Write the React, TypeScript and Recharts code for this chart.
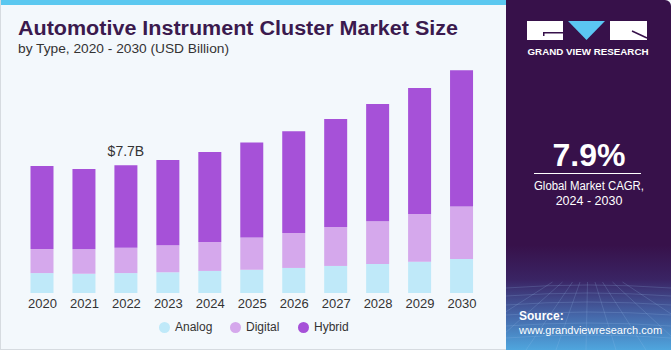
import { BarChart, Bar, XAxis, YAxis, LabelList } from 'recharts';

const years = ['2020', '2021', '2022', '2023', '2024', '2025', '2026', '2027', '2028', '2029', '2030'];
const analog = [1.2, 1.16, 1.2, 1.25, 1.33, 1.4, 1.51, 1.63, 1.75, 1.89, 2.05];
const digital = [1.45, 1.47, 1.52, 1.63, 1.75, 1.95, 2.11, 2.35, 2.57, 2.87, 3.17];
const hybrid = [5.0, 4.84, 4.98, 5.14, 5.42, 5.72, 6.13, 6.51, 7.07, 7.59, 8.21];
const labelledYear = '2022';

const series = [
  { key: 'analog', name: 'Analog', color: '#bfe9f9' },
  { key: 'digital', name: 'Digital', color: '#d5a8ec' },
  { key: 'hybrid', name: 'Hybrid', color: '#a651d8' }
];

const data = years.map((year, i) => ({
  year,
  analog: analog[i],
  digital: digital[i],
  hybrid: hybrid[i],
  total: analog[i] + digital[i] + hybrid[i]
}));

const FONT = '"Liberation Sans", Arial, sans-serif';

const TotalLabel = (props: any) => {
  const { x, y, width, index } = props;
  const row = data[index];
  if (!row || row.year !== labelledYear) return null;
  return (
    <text x={x + width / 2} y={y - 9} textAnchor="middle" fontSize={14} fill="#333" fontFamily={FONT}>
      {`$${row.total.toFixed(1)}B`}
    </text>
  );
};

function SidePanel() {
  return (
    <div
      style={{
        position: 'absolute',
        left: 506,
        top: 0,
        width: 165,
        height: 350,
        borderTopRightRadius: 6,
        overflow: 'hidden',
        background:
          'linear-gradient(to bottom, #37114a 0%, #37114a 70%, #3a2464 80%, #4566a8 90%, #4fa6de 100%)'
      }}
    >
      <svg width={165} height={350} style={{ position: 'absolute', left: 0, top: 0 }}>
        {/* logo */}
        <rect x={21} y={21} width={36} height={19} fill="#fff" />
        <rect x={37} y={32} width={20} height={1.5} fill="#37114a" />
        <rect x={37} y={32} width={1.5} height={4} fill="#37114a" />
        <polygon points="62,21 99,21 80.5,40" fill="#5bc6f2" />
        <rect x={104} y={21} width={37} height={19} fill="#fff" />
        <line x1={126} y1={31} x2={141} y2={38} stroke="#37114a" strokeWidth={1.5} />
        <text x={82} y={55} textAnchor="middle" fontSize={9.5} fontWeight="bold" fill="#fff" fontFamily={FONT} textLength={121} lengthAdjust="spacingAndGlyphs">
          GRAND VIEW RESEARCH
        </text>
        {/* faint grid floor */}
        <g stroke="#9fc6ee" strokeOpacity={0.28} strokeWidth={0.7} fill="none">
          {[288, 296, 305, 315, 326, 338].map((yy) => (
            <path key={yy} d={`M0 ${yy} Q82 ${yy - 6} 165 ${yy}`} />
          ))}
          {[-60, -20, 20, 50, 80, 110, 140, 180, 220].map((xx) => (
            <line key={xx} x1={82 + (xx - 82) * 0.25} y1={282} x2={xx} y2={350} />
          ))}
        </g>
        {/* CAGR */}
        <text x={83} y={166} textAnchor="middle" fontSize={32} fontWeight="bold" fill="#fff" fontFamily={FONT}>
          7.9%
        </text>
        <line x1={28} y1={173.5} x2={135} y2={173.5} stroke="#fff" strokeWidth={1} />
        <text x={83} y={190} textAnchor="middle" fontSize={12.5} fill="#fff" fontFamily={FONT} textLength={110} lengthAdjust="spacingAndGlyphs">
          Global Market CAGR,
        </text>
        <text x={83} y={205} textAnchor="middle" fontSize={12.5} fill="#fff" fontFamily={FONT}>
          2024 - 2030
        </text>
        <text x={13} y={320} fontSize={12} fontWeight="bold" fill="#fff" fontFamily={FONT}>
          Source:
        </text>
        <text x={13} y={334} fontSize={11} fill="#fff" fontFamily={FONT}>
          www.grandviewresearch.com
        </text>
      </svg>
    </div>
  );
}

export default function App() {
  return (
    <div
      style={{
        position: 'absolute',
        left: 0,
        top: 0,
        width: 671,
        height: 350,
        background: '#f3f8fc',
        overflow: 'hidden',
        fontFamily: FONT
      }}
    >
      <div style={{ position: 'absolute', left: 0, top: 0, width: 506, height: 350, boxSizing: 'border-box', borderLeft: '1px solid #d6dbe0', borderBottom: '1px solid #d6dbe0' }} />
      <div style={{ position: 'absolute', left: 1, top: 0, width: 505, height: 5, background: '#5bc8f0' }} />

      <svg width={506} height={60} style={{ position: 'absolute', left: 0, top: 0 }}>
        <text x={18} y={35} fontSize={20} fontWeight="900" fill="#3b1a4e" fontFamily={FONT} textLength={440} lengthAdjust="spacingAndGlyphs">
          Automotive Instrument Cluster Market Size
        </text>
        <text x={18} y={53} fontSize={13} fill="#333" fontFamily={FONT} textLength={211} lengthAdjust="spacingAndGlyphs">
          by Type, 2020 - 2030 (USD Billion)
        </text>
      </svg>

      <div style={{ position: 'absolute', left: 0, top: 0 }}>
        <BarChart width={506} height={350} data={data} margin={{ top: 69, right: 23, left: 21.5, bottom: 27 }}>
          <XAxis
            dataKey="year"
            axisLine={false}
            tickLine={false}
            tickMargin={0}
            interval={0}
            tick={{ fill: '#333', fontSize: 13, fontFamily: FONT }}
          />
          <YAxis hide domain={[0, 13.5]} />
          {series.map((s) => (
            <Bar
              key={s.key}
              dataKey={s.key}
              name={s.name}
              stackId="a"
              fill={s.color}
              barSize={23}
              isAnimationActive={false}
            >
              {s.key === 'hybrid' && <LabelList dataKey="total" content={TotalLabel} />}
            </Bar>
          ))}
        </BarChart>
      </div>

      <div style={{ position: 'absolute', left: 0, top: 319, width: 506, fontSize: 12, color: '#333' }}>
        {series.map((s, i) => (
          <div
            key={s.key}
            style={{ position: 'absolute', left: [159, 230, 298][i], display: 'flex', alignItems: 'center', height: 16 }}
          >
            <span style={{ width: 11, height: 11, borderRadius: '50%', background: s.color, display: 'inline-block', marginRight: 5 }} />
            <span>{s.name}</span>
          </div>
        ))}
      </div>

      <SidePanel />
    </div>
  );
}
